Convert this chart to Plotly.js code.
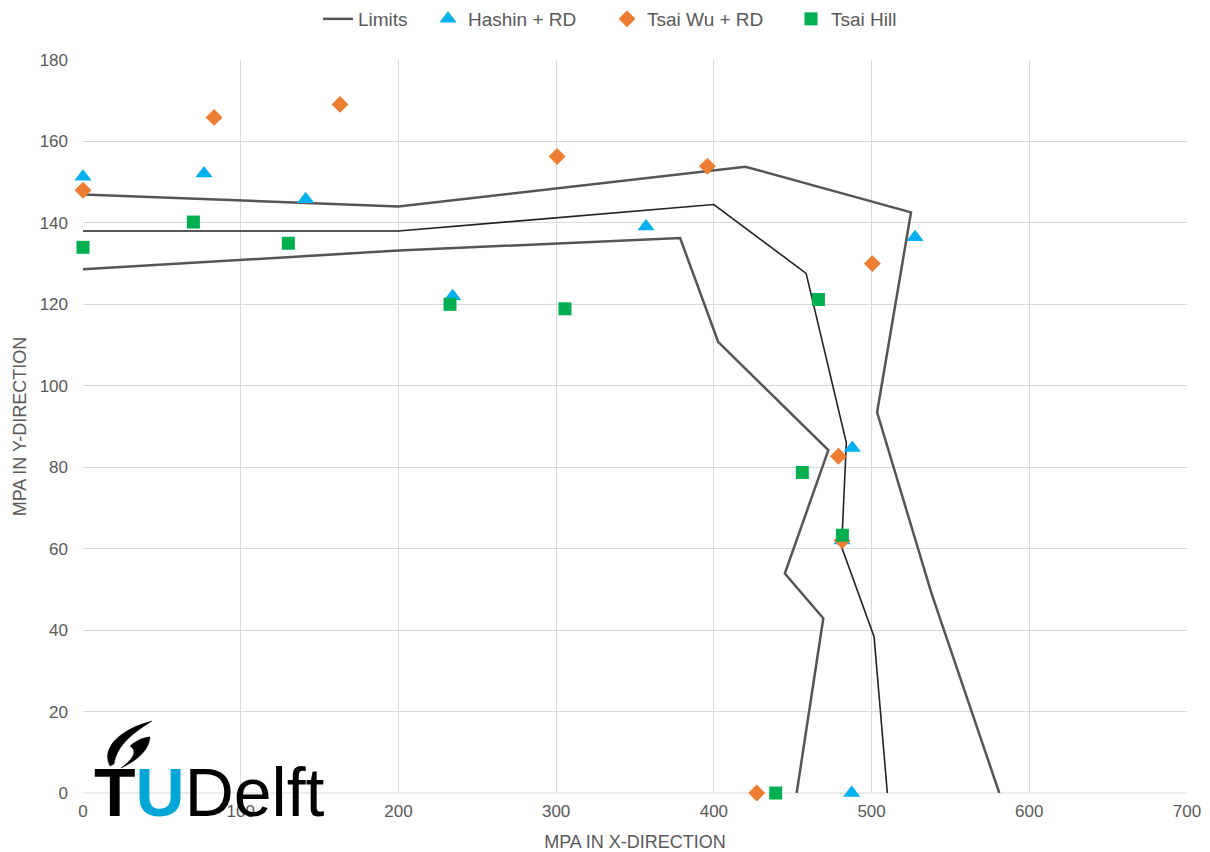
<!DOCTYPE html>
<html>
<head>
<meta charset="utf-8">
<script src="https://cdn.plot.ly/plotly-3.0.1.min.js"></script>
<style>html,body{margin:0;padding:0;background:#fff;}#chart{width:1210px;height:852px;}</style>
</head>
<body>
<div id="chart"></div>
<script>
// ---- Data ----
// Limits: three envelope curves
const outerLimitX = [0, 200, 420, 525, 503.5, 538, 581];
const outerLimitY = [147, 144, 153.8, 142.6, 93.5, 49, 0];
const middleLimitX = [0, 200, 400, 458.5, 484, 481, 501.6, 510];
const middleLimitY = [138, 138, 144.5, 127.6, 86, 60.4, 38.4, 0];
const innerLimitX = [0, 200, 378.6, 402.7, 472.6, 445, 469.4, 452.5];
const innerLimitY = [128.6, 133.2, 136.3, 110.8, 84.2, 53.9, 42.9, 0];

// Hashin + RD
const hashinX = [0, 76.7, 141.2, 234.4, 357, 527.6, 487.8, 481.3, 487.4];
const hashinY = [151.3, 152.1, 145.8, 122, 139.1, 136.5, 84.7, 62, 0];

// Tsai Wu + RD
const tsaiWuX = [0, 83.1, 163, 300.6, 395.9, 500.5, 479, 481.3, 427.2];
const tsaiWuY = [148, 165.9, 169.1, 156.3, 153.9, 130, 82.7, 62, 0];

// Tsai Hill
const tsaiHillX = [0, 70, 130.2, 232.7, 305.6, 466.3, 456.1, 481.5, 439.2];
const tsaiHillY = [134, 140.2, 135, 120, 118.9, 121.2, 78.7, 63.3, 0];

const xTicks = [0, 100, 200, 300, 400, 500, 600, 700];
const yTicks = [0, 20, 40, 60, 80, 100, 120, 140, 160, 180];

const FONT = 'Liberation Sans, Arial, sans-serif';
const GREY = '#595959';

const traces = [
  {x: outerLimitX, y: outerLimitY, mode: 'lines', name: 'Limits', legendgroup: 'lim', legend: 'legend',
   line: {color: '#555555', width: 2.5}, showlegend: true, cliponaxis: false},
  {x: middleLimitX, y: middleLimitY, mode: 'lines', name: 'Limits', legendgroup: 'lim',
   line: {color: '#222222', width: 1.6}, showlegend: false, cliponaxis: false},
  {x: innerLimitX, y: innerLimitY, mode: 'lines', name: 'Limits', legendgroup: 'lim',
   line: {color: '#555555', width: 2.5}, showlegend: false, cliponaxis: false},
  {x: hashinX, y: hashinY, mode: 'markers', name: 'Hashin + RD', legend: 'legend2', cliponaxis: false,
   marker: {symbol: 'triangle-up', size: 15, color: '#00B0F0'}},
  {x: tsaiWuX, y: tsaiWuY, mode: 'markers', name: 'Tsai Wu + RD', legend: 'legend3', cliponaxis: false,
   marker: {symbol: 'diamond', size: 13, color: '#ED7D31'}},
  {x: tsaiHillX, y: tsaiHillY, mode: 'markers', name: 'Tsai Hill', legend: 'legend4', cliponaxis: false,
   marker: {symbol: 'square', size: 13, color: '#00B050'}}
];

// pixel -> paper helpers for the layout decoration
const W = 1210, H = 852;
const L = 83, R = 1187, T = 59.5, B = 793;
const px = v => +((v - L) / (R - L)).toFixed(5);
const py = v => +((B - v) / (B - T)).toFixed(5);
const cx = v => +(v / W).toFixed(5);
const cy = v => +(1 - v / H).toFixed(5);
const flamePts = [
  ['M', 110, 766],
  ['C', 101, 750, 117, 730, 152, 721],
  ['C', 133, 733, 117, 745, 114, 764],
  ['Z'],
  ['M', 130, 746],
  ['C', 138, 739, 146, 737, 150, 737],
  ['C', 149, 750, 138, 760, 121, 768],
  ['C', 133, 759, 138, 751, 130, 746],
  ['Z']
];
const flamePath = flamePts.map(seg => {
  let s = seg[0];
  for (let i = 1; i < seg.length; i += 2) s += ' ' + px(seg[i]) + ',' + py(seg[i + 1]);
  return s;
}).join(' ');

const legendBase = {orientation: 'h', yref: 'container', xref: 'container',
                    yanchor: 'middle', y: cy(19), xanchor: 'left',
                    font: {family: FONT, size: 19, color: GREY}, itemwidth: 30,
                    bgcolor: 'rgba(0,0,0,0)'};

const layout = {
  width: W, height: H,
  margin: {l: 83, r: 23, t: 59.5, b: 59},
  paper_bgcolor: '#ffffff', plot_bgcolor: '#ffffff',
  font: {family: FONT, color: GREY, size: 17},
  showlegend: true,
  legend: Object.assign({}, legendBase, {x: cx(318)}),
  legend2: Object.assign({}, legendBase, {x: cx(428)}),
  legend3: Object.assign({}, legendBase, {x: cx(607)}),
  legend4: Object.assign({}, legendBase, {x: cx(791)}),
  xaxis: {
    range: [0, 700], tickvals: xTicks, ticktext: xTicks.map(String),
    showgrid: true, gridcolor: '#D9D9D9', gridwidth: 1,
    zeroline: false, showline: false, ticks: '', ticklabelstandoff: 6,
    tickfont: {family: FONT, size: 17, color: GREY},
    title: {text: 'MPA IN X-DIRECTION', font: {family: FONT, size: 18, color: GREY}, standoff: 19}
  },
  yaxis: {
    range: [0, 180], tickvals: yTicks, ticktext: yTicks.map(String),
    showgrid: true, gridcolor: '#D9D9D9', gridwidth: 1,
    zeroline: false, showline: false, ticks: '', ticklabelstandoff: 14,
    tickfont: {family: FONT, size: 17, color: GREY},
    title: {text: 'MPA IN Y-DIRECTION', font: {family: FONT, size: 18, color: GREY}, standoff: 8}
  },
  shapes: [
    {type: 'line', xref: 'paper', yref: 'paper', x0: 0, x1: 1, y0: 0, y1: 0,
     line: {color: '#D9D9D9', width: 1}, layer: 'below'},
    {type: 'path', xref: 'paper', yref: 'paper', path: flamePath,
     fillcolor: '#000000', line: {color: '#000000', width: 0.5}, layer: 'above'}
  ],
  annotations: [
    {xref: 'paper', yref: 'paper', x: px(92), y: py(792), xanchor: 'left', yanchor: 'middle',
     showarrow: false,
     text: '<b>T</b><b><span style="color:#00A6D6">U</span></b>Delft',
     font: {family: FONT, size: 68, color: '#000000'}}
  ]
};

Plotly.newPlot('chart', traces, layout, {displayModeBar: false, staticPlot: true});
</script>
</body>
</html>
